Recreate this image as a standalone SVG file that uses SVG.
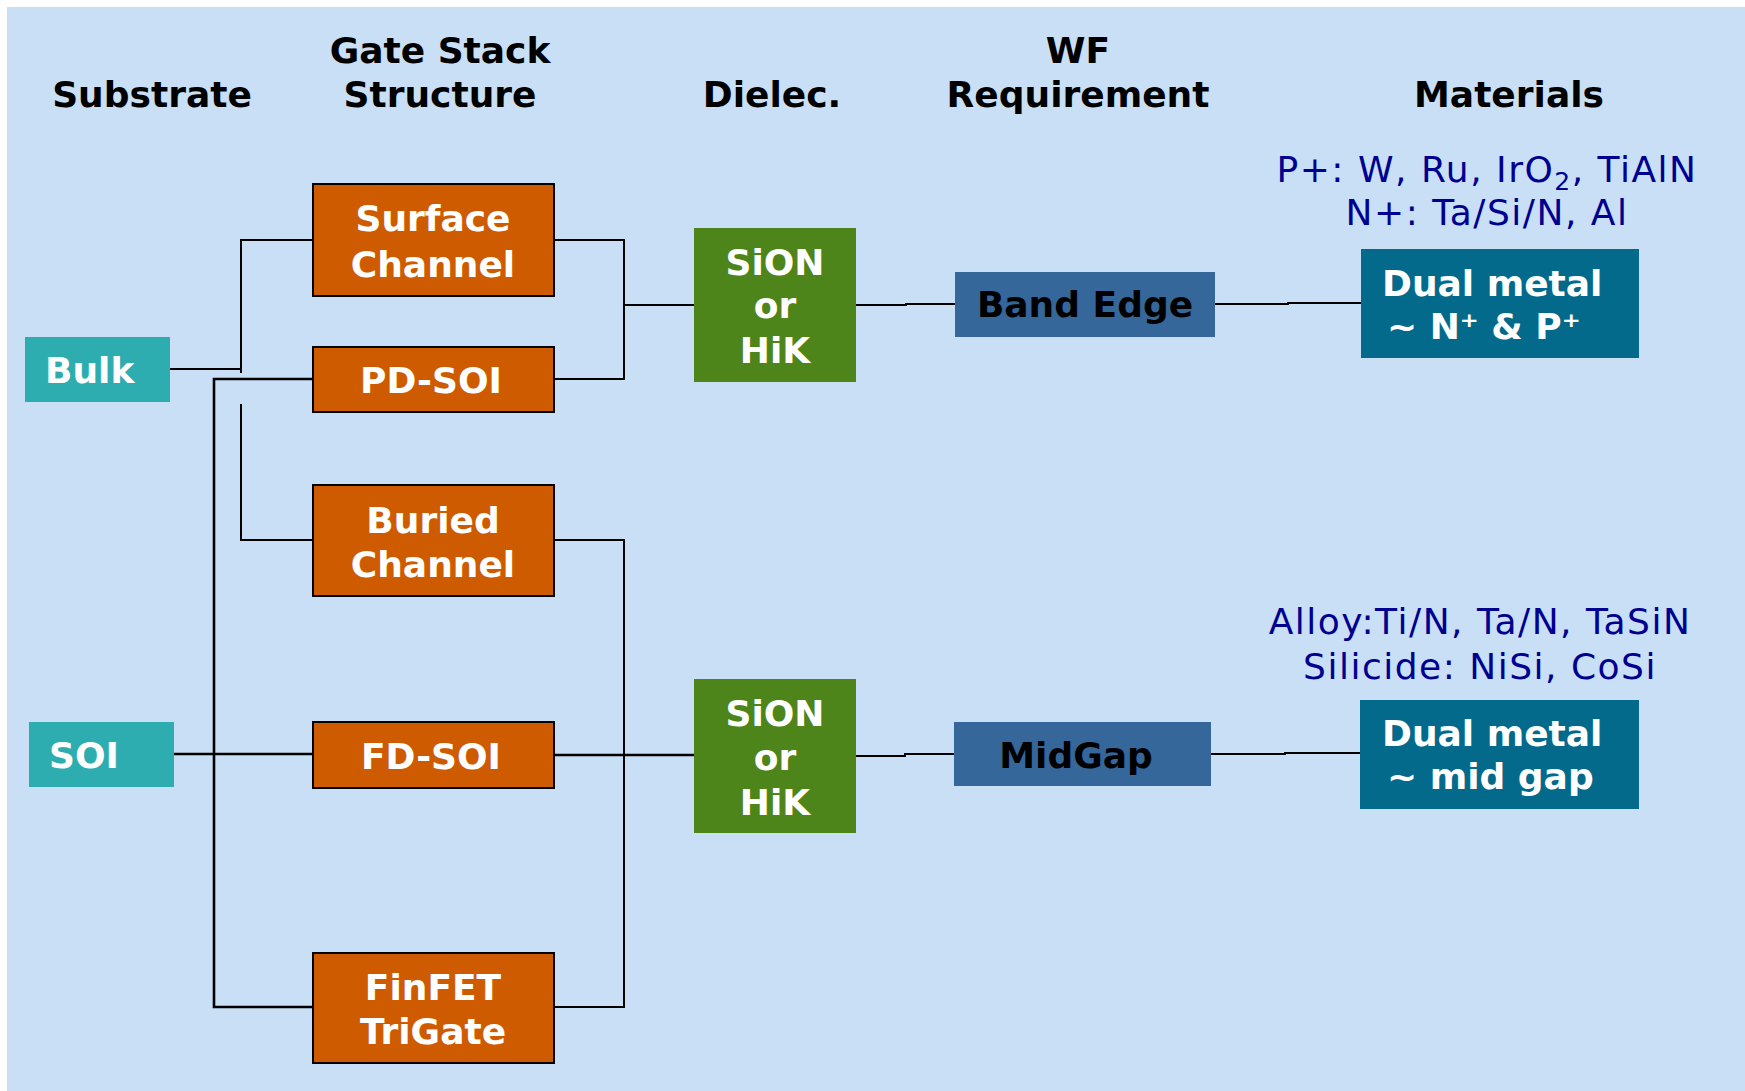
<svg xmlns="http://www.w3.org/2000/svg" width="1745" height="1091" viewBox="0 0 1745 1091">
  <style>
    .hdr { font-family: "DejaVu Sans", Verdana, sans-serif; font-weight: bold; font-size: 36px; fill: #000; text-anchor: middle; }
    .lbl { font-family: "DejaVu Sans", Verdana, sans-serif; font-weight: bold; font-size: 36px; fill: #fff; }
    .dark { fill: #000; }
    .mid { text-anchor: middle; }
    .mat { font-family: "DejaVu Sans", Verdana, sans-serif; font-size: 36px; fill: #000090; text-anchor: middle; letter-spacing: 1.5px; }
    .sub { fill: #2eadb0; }
    .gs { fill: #cf5b00; stroke: #000; stroke-width: 2; }
    .die { fill: #4e851a; }
    .wf { fill: #35679b; }
    .metal { fill: #046a8b; }
    .wire { fill: none; stroke: #000; stroke-width: 2; }
    .wire.heavy { stroke-width: 2.6; }
  </style>

  <!-- page background -->
  <rect x="0" y="0" width="1745" height="1091" fill="#ffffff"/>
  <rect x="7" y="7" width="1738" height="1084" fill="#c8dff5"/>

  <!-- column headings -->
  <g id="headers">
    <text class="hdr" x="152" y="107">Substrate</text>
    <text class="hdr" x="440" y="63">Gate Stack</text>
    <text class="hdr" x="440" y="107">Structure</text>
    <text class="hdr" x="772" y="107">Dielec.</text>
    <text class="hdr" x="1078" y="63">WF</text>
    <text class="hdr" x="1078" y="107">Requirement</text>
    <text class="hdr" x="1509" y="107">Materials</text>
  </g>

  <!-- connectors -->
  <g id="connectors">
    <path class="wire" d="M170 369 H241"/>
    <path class="wire" d="M241 373 V240 H313"/>
    <path class="wire" d="M241 404 V540 H313"/>
    <path class="wire heavy" d="M313 379 H214 V1007 H313"/>
    <path class="wire heavy" d="M174 754 H313"/>
    <path class="wire" d="M554 240 H624 V379 H554"/>
    <path class="wire" d="M624 305 H694"/>
    <path class="wire" d="M856 305 H906 V304 H955"/>
    <path class="wire" d="M1215 304 H1288 V303 H1361"/>
    <path class="wire" d="M554 540 H624 V1007 H554"/>
    <path class="wire heavy" d="M554 755 H694"/>
    <path class="wire" d="M856 756 H905 V754 H954"/>
    <path class="wire" d="M1211 754 H1285 V753 H1360"/>
  </g>

  <!-- substrate nodes -->
  <g id="bulk">
    <rect class="sub" x="25" y="337" width="145" height="65"/>
    <text class="lbl" x="45" y="383">Bulk</text>
  </g>
  <g id="soi">
    <rect class="sub" x="29" y="722" width="145" height="65"/>
    <text class="lbl" x="49" y="768">SOI</text>
  </g>

  <!-- gate stack structure nodes -->
  <g id="surface-channel">
    <rect class="gs" x="313" y="184" width="241" height="112"/>
    <text class="lbl mid" x="433" y="231">Surface</text>
    <text class="lbl mid" x="433" y="277">Channel</text>
  </g>
  <g id="pd-soi">
    <rect class="gs" x="313" y="347" width="241" height="65"/>
    <text class="lbl mid" x="431" y="393">PD-SOI</text>
  </g>
  <g id="buried-channel">
    <rect class="gs" x="313" y="485" width="241" height="111"/>
    <text class="lbl mid" x="433" y="533">Buried</text>
    <text class="lbl mid" x="433" y="577">Channel</text>
  </g>
  <g id="fd-soi">
    <rect class="gs" x="313" y="722" width="241" height="66"/>
    <text class="lbl mid" x="431" y="769">FD-SOI</text>
  </g>
  <g id="finfet-trigate">
    <rect class="gs" x="313" y="953" width="241" height="110"/>
    <text class="lbl mid" x="433" y="1000">FinFET</text>
    <text class="lbl mid" x="433" y="1044">TriGate</text>
  </g>

  <!-- dielectric nodes -->
  <g id="dielectric-top">
    <rect class="die" x="694" y="228" width="162" height="154"/>
    <text class="lbl mid" x="775" y="275">SiON</text>
    <text class="lbl mid" x="775" y="318">or</text>
    <text class="lbl mid" x="775" y="363">HiK</text>
  </g>
  <g id="dielectric-bottom">
    <rect class="die" x="694" y="679" width="162" height="154"/>
    <text class="lbl mid" x="775" y="726">SiON</text>
    <text class="lbl mid" x="775" y="770">or</text>
    <text class="lbl mid" x="775" y="815">HiK</text>
  </g>

  <!-- work function requirement nodes -->
  <g id="band-edge">
    <rect class="wf" x="955" y="272" width="260" height="65"/>
    <text class="lbl dark mid" x="1085" y="317">Band Edge</text>
  </g>
  <g id="midgap">
    <rect class="wf" x="954" y="722" width="257" height="64"/>
    <text class="lbl dark mid" x="1076" y="768">MidGap</text>
  </g>

  <!-- material nodes -->
  <g id="dual-metal-edge">
    <text class="mat" x="1487" y="182">P+: W, Ru, IrO<tspan font-size="25" dy="8">2</tspan><tspan dy="-8">, TiAlN</tspan></text>
    <text class="mat" x="1487" y="225">N+: Ta/Si/N, Al</text>
    <rect class="metal" x="1361" y="249" width="278" height="109"/>
    <text class="lbl" x="1382" y="296">Dual metal</text>
    <text class="lbl" x="1387" y="339">~ N⁺ &amp; P⁺</text>
  </g>
  <g id="dual-metal-midgap">
    <text class="mat" x="1480" y="634">Alloy:Ti/N, Ta/N, TaSiN</text>
    <text class="mat" x="1480" y="679">Silicide: NiSi, CoSi</text>
    <rect class="metal" x="1360" y="700" width="279" height="109"/>
    <text class="lbl" x="1382" y="746">Dual metal</text>
    <text class="lbl" x="1387" y="789">~ mid gap</text>
  </g>
</svg>
